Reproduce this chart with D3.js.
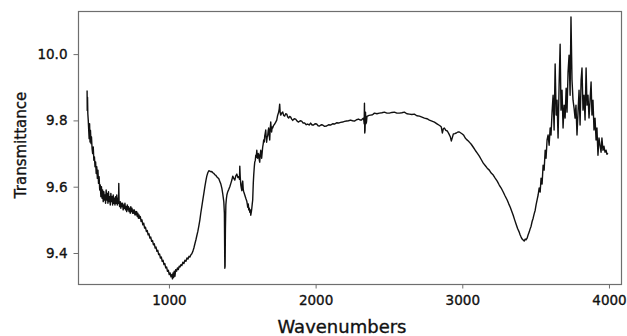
<!DOCTYPE html>
<html>
<head>
<meta charset="utf-8">
<script src="https://cdn.jsdelivr.net/npm/d3@7"></script>
<style>
body { margin: 0; background: #fff; }
text { font-family: "DejaVu Sans", sans-serif; fill: #111; stroke: #111; stroke-width: 0.35px; }
</style>
</head>
<body>
<svg id="chart" width="627" height="336"></svg>
<script>
// wavenumber (cm-1)
var wavenumbers = [
442,443,445,447,450,453,456,459,462,465,469,472,476,480,484,488,492,496,500,504,508,512,516,520,524,528,532,536,540,544,548,552,556,560,564,568,572,576,580,584,588,592,596,600,604,608,612,616,620,624,628,632,636,640,644,648,652,656,658,660,664,668,672,676,680,684,688,692,696,700,704,708,712,716,720,724,728,732,736,740,744,748,752,756,760,764,768,772,776,780,784,788,792,796,800,805,810,816,822,828,834,840,846,852,858,864,870,876,882,888,894,900,906,912,918,924,930,936,942,948,954,960,966,972,978,984,990,996,1002,1008,1014,1020,1024,1028,1032,1036,1041,1046,1052,1058,1064,1070,1076,1082,1088,1095,1102,1109,1116,1123,1130,1137,1143,1150,1156,1163,1170,1177,1184,1190,1197,1204,1211,1217,1224,1231,1238,1245,1252,1258,1265,1272,1279,1286,1292,1299,1306,1313,1320,1326,1333,1340,1347,1354,1361,1367,1374,1378,1381,1383,1385,1388,1392,1395,1401,1408,1415,1422,1429,1435,1442,1449,1456,1463,1470,1476,1481,1483,1486,1490,1494,1497,1500,1503,1507,1510,1517,1524,1531,1535,1537,1541,1544,1548,1551,1555,1558,1562,1565,1568,1571,1575,1578,1582,1585,1589,1592,1595,1599,1602,1605,1609,1612,1616,1619,1622,1626,1629,1632,1636,1639,1643,1646,1650,1653,1656,1660,1663,1666,1670,1673,1677,1680,1684,1687,1690,1694,1697,1700,1704,1707,1714,1721,1728,1735,1741,1748,1752,1755,1758,1762,1769,1776,1782,1789,1796,1803,1810,1816,1823,1830,1837,1844,1854,1864,1874,1884,1895,1905,1915,1925,1936,1946,1956,1966,1976,1986,1996,2007,2017,2027,2038,2048,2061,2075,2088,2102,2116,2129,2143,2156,2170,2184,2197,2211,2224,2238,2252,2265,2279,2292,2306,2313,2320,2327,2331,2333,2335,2337,2340,2343,2347,2350,2354,2364,2374,2388,2401,2418,2435,2452,2469,2486,2503,2520,2537,2554,2571,2588,2605,2622,2639,2656,2673,2690,2708,2725,2742,2759,2776,2793,2810,2820,2830,2840,2850,2857,2864,2871,2878,2888,2898,2908,2919,2925,2932,2939,2949,2959,2970,2980,2990,3000,3010,3020,3030,3041,3051,3061,3075,3088,3102,3116,3129,3143,3156,3170,3184,3197,3211,3224,3238,3252,3265,3279,3292,3306,3316,3327,3337,3347,3357,3367,3377,3388,3394,3401,3408,3415,3422,3429,3435,3442,3449,3456,3462,3469,3476,3483,3490,3497,3503,3510,3517,3524,3531,3537,3544,3551,3558,3565,3571,3578,3585,3592,3599,3605,3612,3619,3626,3633,3640,3646,3653,3660,3667,3673,3680,3687,3694,3701,3708,3714,3721,3728,3735,3741,3748,3755,3762,3769,3775,3782,3789,3796,3803,3810,3816,3823,3830,3837,3844,3850,3857,3864,3871,3878,3884,3891,3898,3905,3912,3918,3925,3932,3939,3946,3952,3959,3966,3973,3980,3986,3993
];

// transmittance at each wavenumber
var transmittance = [
9.890,9.830,9.870,9.820,9.800,9.770,9.745,9.790,9.735,9.770,9.730,9.750,9.715,9.700,9.720,9.680,9.690,9.660,9.675,9.640,9.660,9.625,9.650,9.610,9.630,9.590,9.605,9.570,9.600,9.565,9.590,9.555,9.585,9.560,9.575,9.550,9.590,9.560,9.580,9.550,9.585,9.555,9.570,9.545,9.580,9.555,9.570,9.545,9.575,9.550,9.565,9.545,9.570,9.550,9.575,9.545,9.565,9.550,9.610,9.555,9.540,9.555,9.535,9.550,9.540,9.550,9.530,9.545,9.535,9.550,9.530,9.540,9.525,9.545,9.530,9.540,9.525,9.535,9.520,9.540,9.525,9.535,9.520,9.530,9.520,9.530,9.515,9.525,9.515,9.525,9.510,9.520,9.505,9.515,9.505,9.510,9.495,9.500,9.485,9.490,9.475,9.478,9.465,9.468,9.455,9.458,9.445,9.448,9.435,9.438,9.425,9.428,9.415,9.418,9.405,9.408,9.395,9.397,9.385,9.388,9.375,9.378,9.365,9.368,9.355,9.358,9.345,9.348,9.335,9.340,9.328,9.335,9.322,9.340,9.326,9.345,9.330,9.350,9.345,9.355,9.350,9.360,9.358,9.365,9.362,9.372,9.368,9.378,9.375,9.385,9.382,9.390,9.388,9.395,9.398,9.405,9.415,9.428,9.440,9.452,9.465,9.482,9.500,9.520,9.540,9.560,9.580,9.600,9.618,9.632,9.642,9.648,9.647,9.645,9.646,9.642,9.640,9.636,9.634,9.630,9.627,9.624,9.616,9.608,9.595,9.578,9.555,9.520,9.354,9.360,9.470,9.545,9.565,9.575,9.585,9.592,9.600,9.610,9.620,9.632,9.625,9.620,9.633,9.638,9.628,9.630,9.622,9.662,9.630,9.605,9.595,9.588,9.610,9.617,9.590,9.585,9.575,9.565,9.556,9.545,9.538,9.548,9.530,9.535,9.523,9.530,9.514,9.525,9.535,9.548,9.560,9.610,9.635,9.660,9.674,9.680,9.695,9.688,9.710,9.694,9.686,9.700,9.698,9.680,9.674,9.695,9.710,9.700,9.686,9.705,9.719,9.730,9.741,9.735,9.753,9.760,9.771,9.748,9.734,9.750,9.753,9.770,9.777,9.755,9.741,9.770,9.795,9.775,9.765,9.780,9.777,9.785,9.789,9.795,9.801,9.815,9.825,9.835,9.849,9.825,9.816,9.822,9.825,9.815,9.813,9.820,9.819,9.810,9.807,9.812,9.810,9.804,9.800,9.805,9.804,9.798,9.795,9.799,9.798,9.792,9.792,9.787,9.789,9.786,9.792,9.786,9.786,9.790,9.789,9.784,9.783,9.787,9.786,9.782,9.783,9.787,9.786,9.790,9.789,9.793,9.792,9.794,9.795,9.797,9.798,9.799,9.801,9.799,9.798,9.802,9.804,9.801,9.801,9.805,9.807,9.790,9.852,9.762,9.770,9.825,9.790,9.795,9.812,9.813,9.815,9.816,9.817,9.822,9.820,9.822,9.823,9.825,9.822,9.822,9.824,9.825,9.822,9.822,9.823,9.825,9.820,9.819,9.818,9.819,9.814,9.813,9.810,9.807,9.805,9.801,9.798,9.795,9.792,9.789,9.786,9.783,9.780,9.762,9.775,9.777,9.770,9.768,9.760,9.750,9.738,9.748,9.759,9.760,9.762,9.765,9.765,9.762,9.759,9.755,9.747,9.742,9.738,9.733,9.728,9.719,9.710,9.701,9.692,9.682,9.671,9.664,9.656,9.650,9.641,9.635,9.626,9.617,9.605,9.596,9.584,9.572,9.560,9.549,9.538,9.526,9.514,9.500,9.487,9.474,9.463,9.455,9.448,9.442,9.439,9.436,9.442,9.440,9.445,9.455,9.463,9.472,9.481,9.495,9.505,9.518,9.529,9.545,9.560,9.575,9.596,9.584,9.626,9.608,9.665,9.650,9.710,9.686,9.741,9.756,9.725,9.777,9.756,9.825,9.876,9.771,9.970,9.816,9.861,9.747,9.906,10.030,9.831,9.891,9.777,9.846,9.807,9.897,9.825,9.946,9.997,9.876,10.112,9.922,9.861,9.837,9.807,9.846,9.756,9.825,9.891,9.786,9.922,9.958,9.831,9.876,9.801,9.958,9.846,9.876,9.807,9.861,9.916,9.816,9.861,9.771,9.807,9.741,9.777,9.695,9.747,9.725,9.704,9.747,9.710,9.722,9.704,9.710,9.698,9.701
];

var xTicks = [1000, 2000, 3000, 4000];
var yTicks = [9.4, 9.6, 9.8, 10.0];

var svg = d3.select("#chart");
var margin = {top: 11, right: 6, bottom: 52, left: 78};
var w = 627 - margin.left - margin.right;
var h = 336 - margin.top - margin.bottom;

var x = d3.scaleLinear().domain([380, 4082]).range([0, w]);
var y = d3.scaleLinear().domain([9.3065, 10.13]).range([h, 0]);

var g = svg.append("g").attr("transform", "translate(" + margin.left + "," + margin.top + ")");

var spectrum = wavenumbers.map(function(d, i) { return [d, transmittance[i]]; });

g.append("path")
    .datum(spectrum)
    .attr("d", d3.line().x(function(d) { return x(d[0]); }).y(function(d) { return y(d[1]); }))
    .style("fill", "none")
    .style("stroke", "#111")
    .style("stroke-width", 1.4)
    .style("stroke-linejoin", "round");

// frame
g.append("rect")
    .attr("x", 0.5).attr("y", 0.5)
    .attr("width", w).attr("height", h)
    .style("fill", "none")
    .style("stroke", "#6e6e6e")
    .style("stroke-width", 1.2);

var xAxis = g.append("g")
    .attr("transform", "translate(0," + (h + 0.5) + ")")
    .call(d3.axisBottom(x).tickValues(xTicks).tickSize(4).tickSizeOuter(0).tickPadding(7).tickFormat(d3.format("d")));

var yAxis = g.append("g")
    .attr("transform", "translate(0.5,0)")
    .call(d3.axisLeft(y).tickValues(yTicks).tickSize(5).tickSizeOuter(0).tickPadding(6).tickFormat(d3.format(".1f")));

[xAxis, yAxis].forEach(function(a) {
    a.select(".domain").remove();
    a.selectAll("line").style("stroke", "#6e6e6e");
    a.selectAll("text").style("font-size", "13.5px").style("font-family", "DejaVu Sans, sans-serif").style("fill", "#111");
});

svg.append("text")
    .attr("x", 342)
    .attr("y", 333)
    .attr("text-anchor", "middle")
    .style("font-size", "18px")
    .text("Wavenumbers");

svg.append("text")
    .attr("transform", "translate(26,145) rotate(-90)")
    .attr("text-anchor", "middle")
    .style("font-size", "15px")
    .text("Transmittance");
</script>
</body>
</html>
